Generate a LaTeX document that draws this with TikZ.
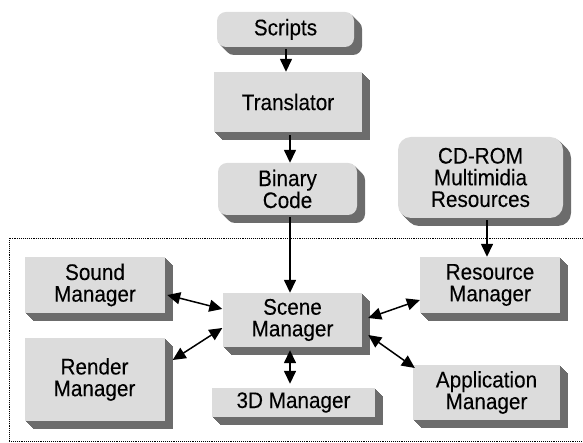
\documentclass[tikz,border=0pt]{standalone}
\usepackage{fontspec}
\setmainfont{Liberation Sans}[FakeStretch=0.92,FakeBold=0.15]
\usetikzlibrary{arrows.meta,shadows}
\definecolor{facegray}{HTML}{DCDCDC}
\definecolor{sidegray}{HTML}{6C6C6C}
\tikzset{
  ext/.style={general shadow={fill=sidegray, shadow xshift=#1, shadow yshift=-#1}},
  box/.style={fill=facegray, inner sep=0pt, align=center, text=black,
    font=\fontsize{22.5}{21.7}\selectfont,
    ext=1pt, ext=2pt, ext=3pt, ext=4pt, ext=5pt, ext=6pt, ext=7pt, ext=8pt},
  rbox/.style={box, rounded corners=9pt},
  arr/.style={line width=1.5pt, -{Triangle[length=13pt,width=12pt]}},
  barr/.style={line width=1.5pt, {Triangle[length=13pt,width=12pt]}-{Triangle[length=13pt,width=12pt]}},
  frame/.style={line width=0.9pt, dash pattern=on 0.8pt off 1.1pt}
}
\begin{document}
\begin{tikzpicture}[x=1pt,y=1pt]
\useasboundingbox (0,0) rectangle (583,443);
% dotted frame
\draw[frame] (590,205) -- (9,205) -- (9,1.5) -- (590,1.5);
% nodes
\node[rbox, minimum width=137pt, minimum height=35pt] (scripts) at (285.5,413.5) {Scripts};
\node[box, minimum width=148pt, minimum height=60pt] (translator) at (288,341) {Translator};
\node[rbox, minimum width=139pt, minimum height=52pt, font=\fontsize{22.5}{15}\selectfont] (binary) at (287.5,254) {Binary\\Code};
\node[rbox, rounded corners=13pt, minimum width=165pt, minimum height=81pt] (cd) at (480.5,265.5) {CD-ROM\\Multimidia\\Resources};
\node[box, minimum width=140pt, minimum height=56pt] (sound) at (95,158) {Sound\\Manager};
\node[box, minimum width=140pt, minimum height=83pt] (render) at (94.5,63.5) {Render\\Manager};
\node[box, minimum width=139pt, minimum height=54pt] (scene) at (292.5,123) {Scene\\Manager};
\node[box, minimum width=163pt, minimum height=29pt] (threed) at (293.5,40.5) {3D Manager};
\node[box, minimum width=140pt, minimum height=56pt] (resource) at (490,158) {Resource\\Manager};
\node[box, minimum width=147pt, minimum height=55pt] (app) at (486.5,50.5) {Application\\Manager};
% connectors
\draw[arr] ([xshift=0.5pt,yshift=-2pt]scripts.south) -- ([xshift=0.5pt]scripts.south |- translator.north);
\draw[arr] ([xshift=2pt,yshift=-3pt]translator.south) -- ([xshift=2pt]translator.south |- binary.north);
\draw[arr] ([xshift=2.5pt,yshift=-2pt]binary.south) -- ([xshift=2.5pt]binary.south |- scene.north);
\draw[arr] ([xshift=6.5pt,yshift=-2pt]cd.south) -- ([xshift=6.5pt]cd.south |- resource.north);
\draw[barr] ([xshift=2pt,yshift=-10pt]sound.east) -- ([xshift=-0.5pt,yshift=11pt]scene.west);
\draw[barr] ([xshift=8pt,yshift=19.5pt]render.east) -- ([xshift=-0.5pt,yshift=-8pt]scene.west);
\draw[barr] ([xshift=-2.5pt,yshift=-3pt]scene.south) -- ([xshift=-2.5pt,yshift=4pt]scene.south |- threed.north);
\draw[barr] ([xshift=6pt,yshift=2pt]scene.east) -- ([yshift=-15pt]resource.west);
\draw[barr] ([xshift=6pt,yshift=-15pt]scene.east) -- ([xshift=2pt,yshift=24.5pt]app.west);
\end{tikzpicture}
\end{document}
